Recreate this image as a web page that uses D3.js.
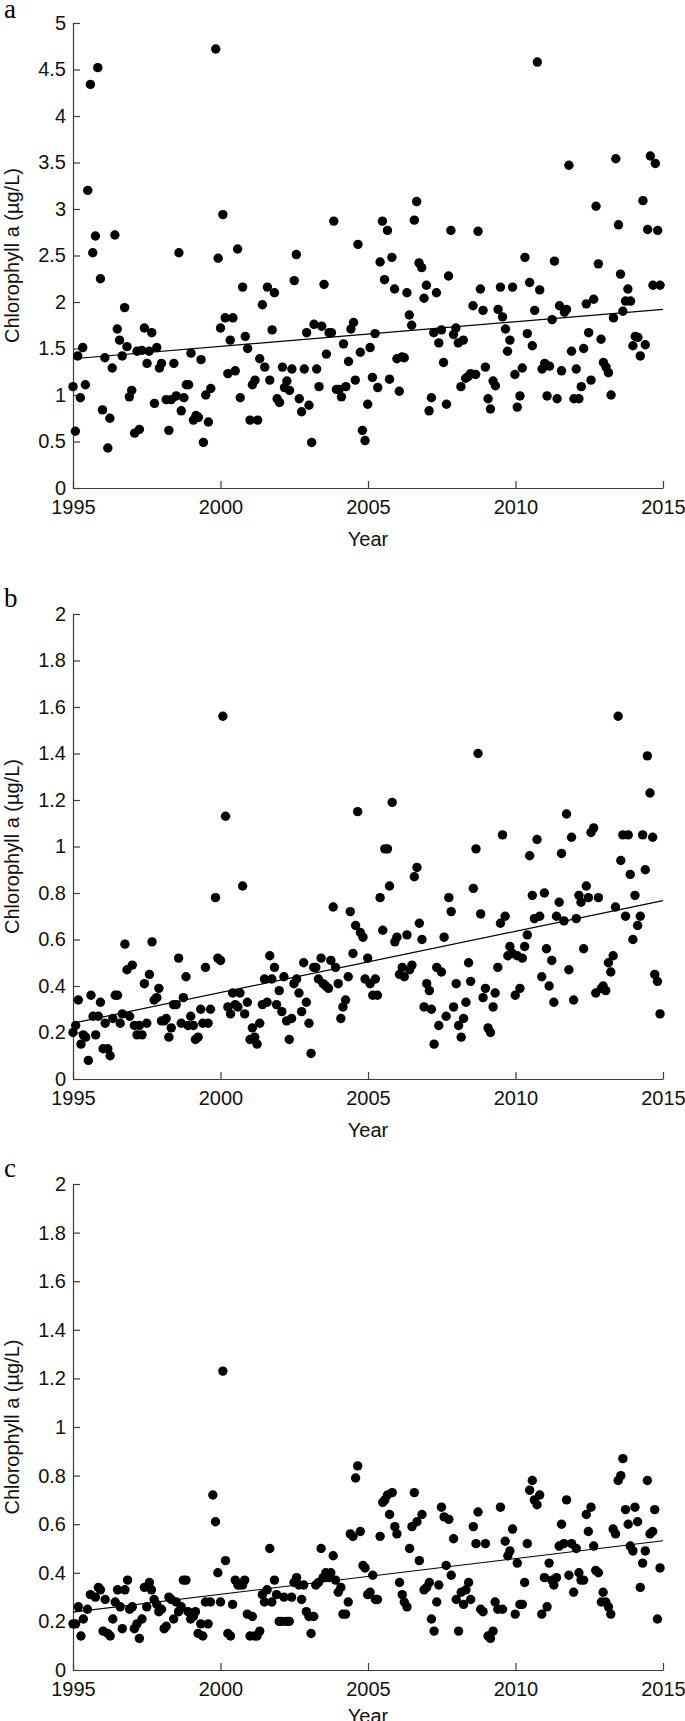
<!DOCTYPE html>
<html>
<head>
<meta charset="utf-8">
<script src="https://cdn.jsdelivr.net/npm/d3@7"></script>
<style>
  body { margin: 0; background: #fff; }
  svg { display: block; }
  .tick text { font-family: "Liberation Sans", Arial, sans-serif; font-size: 20px; fill: #111; }
  .axis path, .axis line { stroke: #3c3c3c; stroke-width: 1.2; }
</style>
</head>
<body>
<svg id="chart" width="685" height="1721"></svg>
<script>
// monthly chlorophyll a, [decimal year, value]
var chlA = [
  [1995.00,1.09],[1995.08,0.61],[1995.16,1.42],[1995.25,0.97],[1995.33,1.51],[1995.42,1.11],[1995.50,3.20],[1995.59,4.34],[1995.67,2.53],[1995.76,2.71],[1995.84,4.52],[1995.93,2.25],
  [1996.00,0.84],[1996.08,1.40],[1996.18,0.43],[1996.25,0.75],[1996.33,1.29],[1996.42,2.72],[1996.50,1.71],[1996.58,1.59],[1996.67,1.42],[1996.75,1.94],[1996.83,1.52],[1996.91,0.98],
  [1996.99,1.05],[1997.09,0.59],[1997.17,1.47],[1997.25,0.63],[1997.33,1.48],[1997.42,1.72],[1997.51,1.34],[1997.58,1.47],[1997.67,1.67],[1997.76,0.91],[1997.84,1.51],[1997.93,1.29],
  [1998.00,1.34],[1998.16,0.95],[1998.25,0.62],[1998.33,0.95],[1998.42,1.34],[1998.50,0.99],[1998.59,2.53],[1998.67,0.83],[1998.76,0.97],[1998.84,1.11],[1998.92,1.11],
  [1999.00,1.45],[1999.08,0.73],[1999.17,0.78],[1999.25,0.76],[1999.34,1.38],[1999.42,0.49],[1999.50,1.00],[1999.59,0.71],[1999.67,1.07],[1999.84,4.72],[1999.92,2.47],
  [2000.00,1.72],[2000.08,2.94],[2000.16,1.83],[2000.25,1.23],[2000.33,1.59],[2000.42,1.83],[2000.50,1.26],[2000.58,2.57],[2000.67,0.97],[2000.75,2.16],[2000.84,1.63],[2000.92,1.50],
  [2001.00,0.73],[2001.08,1.11],[2001.17,1.16],[2001.26,0.73],[2001.33,1.39],[2001.42,1.97],[2001.50,1.30],[2001.59,2.16],[2001.67,1.16],[2001.75,1.70],[2001.83,2.10],[2001.92,0.96],
  [2002.00,0.92],[2002.10,1.30],[2002.17,1.08],[2002.25,1.15],[2002.34,1.05],[2002.42,1.28],[2002.50,2.23],[2002.57,2.51],[2002.67,0.96],[2002.75,0.82],[2002.84,1.28],[2002.92,1.67],
  [2003.00,0.89],[2003.09,0.49],[2003.17,1.76],[2003.26,1.28],[2003.34,1.09],[2003.43,1.74],[2003.51,2.19],[2003.59,1.44],[2003.68,1.67],[2003.76,1.67],[2003.84,2.87],[2003.93,1.06],
  [2004.02,1.06],[2004.10,0.98],[2004.17,1.55],[2004.25,1.09],[2004.34,1.36],[2004.42,1.71],[2004.51,1.78],[2004.57,1.16],[2004.66,2.62],[2004.74,1.46],[2004.81,0.62],[2004.90,0.51],
  [2004.99,0.90],[2005.07,1.51],[2005.15,1.19],[2005.24,1.66],[2005.33,1.08],[2005.41,2.43],[2005.49,2.87],[2005.56,2.24],[2005.66,2.77],[2005.73,1.17],[2005.81,2.48],[2005.90,2.14],
  [2005.98,1.39],[2006.06,1.04],[2006.15,1.41],[2006.23,1.40],[2006.32,2.10],[2006.40,1.86],[2006.48,1.75],[2006.57,2.88],[2006.65,3.08],[2006.73,2.42],[2006.82,2.37],[2006.90,2.04],
  [2006.98,2.18],[2007.07,0.83],[2007.15,0.97],[2007.23,1.67],[2007.32,2.10],[2007.40,1.56],[2007.49,1.70],[2007.56,1.35],[2007.66,0.90],[2007.73,2.28],[2007.81,2.77],[2007.90,1.65],
  [2007.98,1.72],[2008.06,1.56],[2008.15,1.09],[2008.23,1.59],[2008.31,1.18],[2008.40,1.20],[2008.48,1.23],[2008.56,1.96],[2008.65,1.22],[2008.73,2.76],[2008.81,2.14],[2008.90,1.91],
  [2008.98,1.30],[2009.07,0.96],[2009.15,0.85],[2009.24,1.15],[2009.32,1.10],[2009.41,1.92],[2009.49,2.16],[2009.56,1.84],[2009.66,1.71],[2009.73,1.47],[2009.81,1.59],[2009.90,2.16],
  [2009.98,1.22],[2010.06,0.87],[2010.15,0.99],[2010.23,1.29],[2010.32,2.48],[2010.40,1.66],[2010.48,2.21],[2010.57,1.53],[2010.65,1.91],[2010.74,4.58],[2010.82,2.13],[2010.90,1.28],
  [2010.99,1.34],[2011.07,0.99],[2011.15,1.31],[2011.24,1.81],[2011.32,2.44],[2011.41,0.96],[2011.49,1.96],[2011.56,1.26],[2011.66,1.89],[2011.73,1.92],[2011.81,3.47],[2011.90,1.47],
  [2011.98,0.96],[2012.06,1.28],[2012.15,0.96],[2012.23,1.09],[2012.31,1.50],[2012.40,1.98],[2012.48,1.67],[2012.56,1.16],[2012.65,2.03],[2012.73,3.03],[2012.81,2.41],[2012.90,1.60],
  [2012.98,1.35],[2013.07,1.30],[2013.15,1.24],[2013.24,1.00],[2013.32,1.83],[2013.40,3.54],[2013.49,2.83],[2013.56,2.30],[2013.64,1.90],[2013.73,2.01],[2013.81,2.14],[2013.90,2.01],
  [2013.98,1.53],[2014.06,1.63],[2014.15,1.62],[2014.23,1.42],[2014.32,3.09],[2014.40,1.54],[2014.48,2.78],[2014.57,3.57],[2014.66,2.18],[2014.74,3.49],[2014.82,2.77],[2014.90,2.18]
];

var chlB = [
  [1995.00,0.20],[1995.09,0.23],[1995.18,0.34],[1995.27,0.15],[1995.35,0.19],[1995.43,0.18],[1995.52,0.08],[1995.61,0.36],[1995.68,0.27],[1995.77,0.19],[1995.86,0.27],[1995.93,0.33],
  [1996.02,0.13],[1996.09,0.24],[1996.18,0.13],[1996.26,0.10],[1996.35,0.26],[1996.43,0.36],[1996.51,0.36],[1996.60,0.24],[1996.67,0.28],[1996.76,0.58],[1996.83,0.47],[1996.92,0.27],
  [1997.01,0.49],[1997.08,0.23],[1997.17,0.19],[1997.25,0.23],[1997.34,0.19],[1997.42,0.41],[1997.50,0.24],[1997.59,0.45],[1997.68,0.59],[1997.75,0.34],[1997.84,0.35],[1997.91,0.39],
  [1998.00,0.25],[1998.09,0.25],[1998.16,0.26],[1998.25,0.18],[1998.33,0.22],[1998.41,0.32],[1998.50,0.32],[1998.58,0.52],[1998.67,0.24],[1998.74,0.35],[1998.83,0.44],[1998.90,0.23],
  [1998.99,0.27],[1999.08,0.23],[1999.15,0.17],[1999.24,0.18],[1999.33,0.30],[1999.40,0.24],[1999.49,0.48],[1999.58,0.24],[1999.66,0.30],[1999.83,0.78],[1999.91,0.52],[2000.00,0.51],
  [2000.08,1.56],[2000.17,1.13],[2000.25,0.31],[2000.34,0.28],[2000.41,0.37],[2000.50,0.32],[2000.59,0.31],[2000.66,0.37],[2000.75,0.83],[2000.82,0.28],[2000.91,0.33],[2001.00,0.17],
  [2001.08,0.22],[2001.16,0.18],[2001.24,0.15],[2001.33,0.24],[2001.42,0.32],[2001.49,0.43],[2001.58,0.33],[2001.67,0.53],[2001.74,0.43],[2001.83,0.48],[2001.90,0.32],[2001.99,0.38],
  [2002.08,0.29],[2002.15,0.44],[2002.24,0.25],[2002.33,0.17],[2002.41,0.26],[2002.49,0.41],[2002.58,0.43],[2002.66,0.37],[2002.75,0.29],[2002.82,0.50],[2002.91,0.33],[2003.00,0.24],
  [2003.07,0.11],[2003.16,0.48],[2003.23,0.48],[2003.32,0.43],[2003.41,0.52],[2003.48,0.41],[2003.57,0.40],[2003.66,0.39],[2003.74,0.51],[2003.82,0.74],[2003.90,0.48],[2003.99,0.41],
  [2004.08,0.26],[2004.15,0.31],[2004.24,0.34],[2004.33,0.44],[2004.40,0.72],[2004.49,0.54],[2004.58,0.66],[2004.65,1.15],[2004.74,0.63],[2004.83,0.61],[2004.90,0.43],[2004.99,0.52],
  [2005.07,0.41],[2005.16,0.36],[2005.25,0.43],[2005.32,0.36],[2005.41,0.78],[2005.50,0.64],[2005.57,0.99],[2005.66,0.99],[2005.73,0.83],[2005.82,1.19],[2005.91,0.59],[2005.98,0.61],
  [2006.07,0.45],[2006.16,0.48],[2006.23,0.44],[2006.32,0.62],[2006.41,0.47],[2006.49,0.49],[2006.57,0.87],[2006.66,0.91],[2006.74,0.67],[2006.83,0.60],[2006.90,0.31],[2006.99,0.41],
  [2007.08,0.38],[2007.15,0.30],[2007.24,0.15],[2007.33,0.48],[2007.40,0.23],[2007.49,0.46],[2007.58,0.61],[2007.65,0.27],[2007.74,0.78],[2007.82,0.72],[2007.90,0.31],[2007.99,0.41],
  [2008.07,0.23],[2008.16,0.18],[2008.24,0.26],[2008.32,0.33],[2008.41,0.50],[2008.48,0.42],[2008.57,0.82],[2008.66,0.99],[2008.73,1.40],[2008.82,0.71],[2008.90,0.35],[2008.98,0.39],
  [2009.07,0.22],[2009.15,0.20],[2009.24,0.31],[2009.31,0.37],[2009.40,0.48],[2009.49,0.67],[2009.56,1.05],[2009.65,0.70],[2009.74,0.53],[2009.81,0.57],[2009.90,0.54],[2009.99,0.36],
  [2010.06,0.53],[2010.15,0.39],[2010.23,0.52],[2010.31,0.57],[2010.40,0.62],[2010.48,0.96],[2010.57,0.79],[2010.64,0.69],[2010.73,1.03],[2010.82,0.70],[2010.89,0.44],[2010.98,0.80],
  [2011.05,0.56],[2011.14,0.40],[2011.23,0.51],[2011.30,0.33],[2011.39,0.70],[2011.48,0.76],[2011.56,0.97],[2011.64,0.68],[2011.73,1.14],[2011.81,0.47],[2011.90,1.04],[2011.97,0.34],
  [2012.06,0.69],[2012.15,0.79],[2012.22,0.76],[2012.31,0.56],[2012.40,0.83],[2012.47,0.78],[2012.56,1.06],[2012.65,1.08],[2012.72,0.37],[2012.81,0.78],[2012.91,0.39],[2012.97,0.40],
  [2013.06,0.38],[2013.15,0.50],[2013.23,0.46],[2013.31,0.53],[2013.39,0.74],[2013.48,1.56],[2013.57,0.94],[2013.64,1.05],[2013.73,0.70],[2013.82,1.05],[2013.89,0.88],[2013.98,0.60],
  [2014.05,0.79],[2014.14,0.66],[2014.23,0.70],[2014.31,1.05],[2014.40,0.90],[2014.47,1.39],[2014.56,1.23],[2014.65,1.04],[2014.72,0.45],[2014.81,0.42],[2014.90,0.28]
];

var chlC = [
  [1995.00,0.19],[1995.09,0.19],[1995.18,0.26],[1995.27,0.14],[1995.35,0.21],[1995.49,0.25],[1995.59,0.31],[1995.76,0.30],[1995.86,0.34],[1995.93,0.33],
  [1996.02,0.16],[1996.09,0.29],[1996.18,0.15],[1996.26,0.14],[1996.35,0.21],[1996.43,0.28],[1996.51,0.33],[1996.60,0.26],[1996.67,0.17],[1996.76,0.33],[1996.85,0.37],[1996.92,0.25],
  [1997.01,0.26],[1997.08,0.17],[1997.17,0.19],[1997.25,0.13],[1997.34,0.21],[1997.42,0.34],[1997.50,0.26],[1997.59,0.36],[1997.66,0.33],[1997.75,0.29],[1997.84,0.27],[1997.91,0.24],
  [1998.00,0.25],[1998.09,0.17],[1998.16,0.18],[1998.25,0.30],[1998.33,0.29],[1998.41,0.21],[1998.50,0.28],[1998.58,0.24],[1998.67,0.26],[1998.74,0.37],[1998.83,0.37],[1998.90,0.24],
  [1998.99,0.21],[1999.08,0.22],[1999.15,0.24],[1999.24,0.15],[1999.33,0.19],[1999.40,0.14],[1999.49,0.28],[1999.58,0.19],[1999.66,0.28],[1999.74,0.72],[1999.83,0.61],[1999.91,0.40],
  [2000.00,0.28],[2000.08,1.23],[2000.17,0.45],[2000.25,0.15],[2000.34,0.14],[2000.41,0.27],[2000.50,0.37],[2000.59,0.35],[2000.66,0.35],[2000.75,0.35],[2000.82,0.37],[2000.91,0.23],
  [2001.00,0.14],[2001.08,0.22],[2001.16,0.14],[2001.24,0.14],[2001.33,0.16],[2001.42,0.31],[2001.49,0.28],[2001.58,0.33],[2001.67,0.50],[2001.74,0.28],[2001.83,0.37],[2001.90,0.31],
  [2001.99,0.20],[2002.08,0.20],[2002.15,0.30],[2002.24,0.20],[2002.33,0.20],[2002.41,0.30],[2002.49,0.36],[2002.58,0.38],[2002.66,0.35],[2002.75,0.29],[2002.82,0.35],[2002.91,0.24],
  [2003.00,0.22],[2003.07,0.15],[2003.16,0.22],[2003.23,0.35],[2003.32,0.36],[2003.41,0.50],[2003.48,0.38],[2003.57,0.40],[2003.66,0.38],[2003.74,0.40],[2003.82,0.47],[2003.90,0.37],
  [2003.99,0.32],[2004.08,0.34],[2004.15,0.23],[2004.24,0.23],[2004.33,0.28],[2004.40,0.56],[2004.49,0.55],[2004.58,0.79],[2004.65,0.84],[2004.74,0.57],[2004.83,0.43],[2004.90,0.42],
  [2004.99,0.31],[2005.07,0.32],[2005.16,0.39],[2005.25,0.29],[2005.32,0.29],[2005.41,0.55],[2005.50,0.69],[2005.57,0.70],[2005.66,0.72],[2005.73,0.64],[2005.82,0.73],[2005.91,0.59],
  [2005.98,0.56],[2006.07,0.36],[2006.16,0.31],[2006.23,0.28],[2006.32,0.26],[2006.41,0.50],[2006.49,0.59],[2006.57,0.73],[2006.66,0.61],[2006.74,0.45],[2006.83,0.64],[2006.90,0.33],
  [2006.99,0.34],[2007.08,0.36],[2007.15,0.21],[2007.24,0.16],[2007.33,0.28],[2007.40,0.35],[2007.49,0.67],[2007.58,0.63],[2007.65,0.43],[2007.74,0.62],[2007.82,0.39],[2007.90,0.54],
  [2007.99,0.29],[2008.07,0.16],[2008.16,0.32],[2008.24,0.27],[2008.32,0.33],[2008.41,0.36],[2008.48,0.29],[2008.57,0.59],[2008.66,0.52],[2008.73,0.65],[2008.82,0.25],[2008.90,0.24],
  [2008.98,0.52],[2009.07,0.14],[2009.15,0.13],[2009.24,0.16],[2009.31,0.28],[2009.40,0.25],[2009.49,0.67],[2009.56,0.25],[2009.65,0.53],[2009.74,0.47],[2009.81,0.49],[2009.90,0.58],
  [2009.99,0.23],[2010.06,0.44],[2010.15,0.27],[2010.23,0.27],[2010.31,0.36],[2010.40,0.52],[2010.48,0.74],[2010.57,0.78],[2010.64,0.70],[2010.73,0.68],[2010.82,0.72],[2010.89,0.23],
  [2010.98,0.38],[2011.07,0.26],[2011.14,0.44],[2011.23,0.37],[2011.30,0.35],[2011.39,0.38],[2011.48,0.51],[2011.56,0.60],[2011.64,0.52],[2011.73,0.70],[2011.81,0.39],[2011.90,0.52],
  [2011.97,0.32],[2012.06,0.50],[2012.15,0.40],[2012.22,0.37],[2012.31,0.37],[2012.40,0.64],[2012.47,0.57],[2012.56,0.67],[2012.65,0.51],[2012.72,0.41],[2012.81,0.40],[2012.91,0.28],
  [2012.97,0.32],[2013.06,0.28],[2013.15,0.26],[2013.23,0.23],[2013.31,0.58],[2013.39,0.56],[2013.48,0.78],[2013.57,0.80],[2013.64,0.87],[2013.73,0.66],[2013.82,0.60],[2013.89,0.51],
  [2013.98,0.49],[2014.05,0.67],[2014.14,0.61],[2014.23,0.34],[2014.31,0.44],[2014.40,0.49],[2014.47,0.78],[2014.56,0.56],[2014.65,0.57],[2014.72,0.66],[2014.81,0.21],[2014.90,0.42]
];

// fitted linear trend, value at 1995 and 2015
var trendA = [1.39, 1.92];
var trendB = [0.24, 0.767];
var trendC = [0.238, 0.532];

var trendYears = [1995, 2015];
var yearTicks = [1995, 2000, 2005, 2010, 2015];
var yTicksA = [0, 0.5, 1, 1.5, 2, 2.5, 3, 3.5, 4, 4.5, 5];
var yTicksB = [0, 0.2, 0.4, 0.6, 0.8, 1, 1.2, 1.4, 1.6, 1.8, 2];
var yTicksC = [0, 0.2, 0.4, 0.6, 0.8, 1, 1.2, 1.4, 1.6, 1.8, 2];
var panelLetters = ['a', 'b', 'c'];
var yTitle = 'Chlorophyll a (\u00b5g/L)';
var xTitle = 'Year';

var svg = d3.select('#chart');
var left = 73, right = 663;

var panels = [
  {data: chlA, trend: trendA, ticks: yTicksA, ymax: 5, top: 23, bottom: 488, letterY: 18, titleY: 546},
  {data: chlB, trend: trendB, ticks: yTicksB, ymax: 2, top: 614, bottom: 1079, letterY: 607, titleY: 1137},
  {data: chlC, trend: trendC, ticks: yTicksC, ymax: 2, top: 1184, bottom: 1670, letterY: 1177, titleY: 1723}
];

var xScale = d3.scaleLinear().domain([1995, 2015]).range([left, right]);

panels.forEach(function(p, i) {
  var yScale = d3.scaleLinear().domain([0, p.ymax]).range([p.bottom, p.top]);
  var g = svg.append('g').attr('class', 'panel');

  // axes, ticks pointing inward like the original
  g.append('g').attr('class', 'axis x')
    .attr('transform', 'translate(0,' + p.bottom + ')')
    .call(d3.axisBottom(xScale).tickValues(yearTicks).tickFormat(function(d) { return d; })
      .tickSizeInner(-7).tickSizeOuter(0).tickPadding(12));
  g.append('g').attr('class', 'axis y')
    .attr('transform', 'translate(' + left + ',0)')
    .call(d3.axisLeft(yScale).tickValues(p.ticks).tickFormat(function(d) { return d; })
      .tickSizeInner(-7).tickSizeOuter(0).tickPadding(7));

  // trend line
  g.append('path')
    .datum(trendYears.map(function(yr, k) { return [yr, p.trend[k]]; }))
    .attr('fill', 'none')
    .attr('stroke', '#000')
    .attr('stroke-width', 1.2)
    .attr('d', d3.line()
      .x(function(d) { return xScale(d[0]); })
      .y(function(d) { return yScale(d[1]); }));

  g.selectAll('circle.pt')
    .data(p.data)
    .enter().append('circle')
    .attr('class', 'pt')
    .attr('cx', function(d) { return xScale(d[0]); })
    .attr('cy', function(d) { return yScale(d[1]); })
    .attr('r', 4.7)
    .attr('fill', '#000');

  g.append('text')
    .attr('x', 4).attr('y', p.letterY)
    .style('font-family', '"Liberation Serif", "Times New Roman", serif')
    .style('font-size', '27px')
    .text(panelLetters[i]);

  g.append('text')
    .attr('transform', 'translate(19,' + ((p.top + p.bottom) / 2) + ') rotate(-90)')
    .attr('text-anchor', 'middle')
    .style('font-family', '"Liberation Sans", Arial, sans-serif')
    .style('font-size', '20px')
    .style('fill', '#111')
    .text(yTitle);

  g.append('text')
    .attr('x', (left + right) / 2).attr('y', p.titleY)
    .attr('text-anchor', 'middle')
    .style('font-family', '"Liberation Sans", Arial, sans-serif')
    .style('font-size', '20px')
    .style('fill', '#111')
    .text(xTitle);
});
</script>
</body>
</html>
